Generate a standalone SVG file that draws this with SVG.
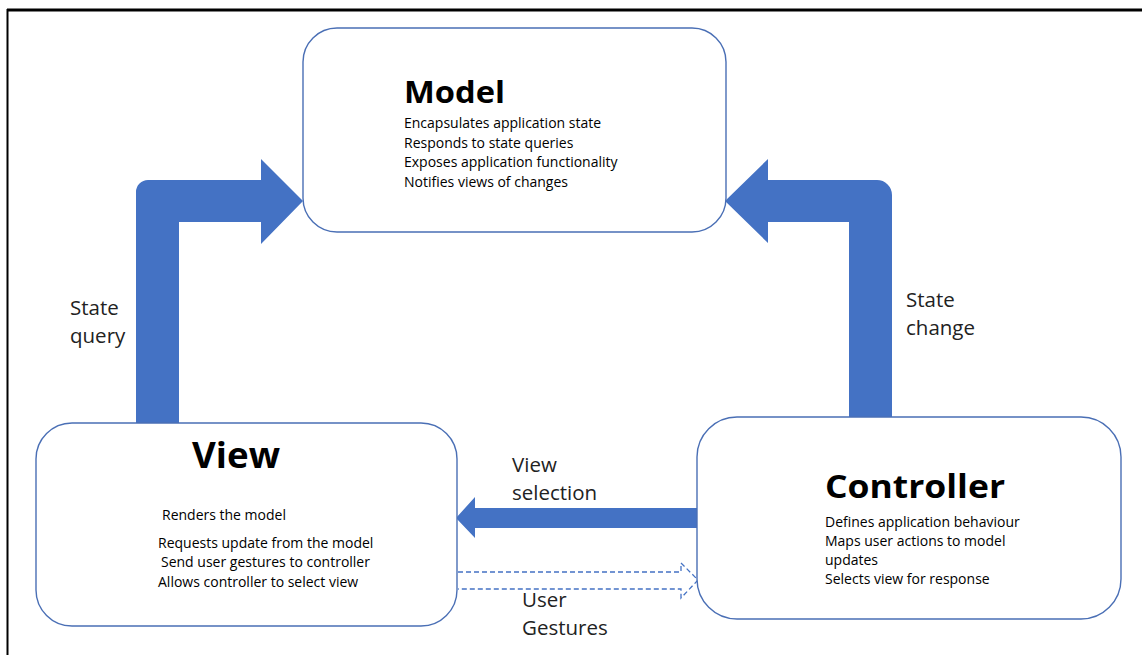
<svg xmlns="http://www.w3.org/2000/svg" width="1142" height="655" viewBox="0 0 1142 655">
<style>
.box{fill:#fff;stroke:#4A6FB5;stroke-width:1.4}
.arr{fill:#4472C4}
.t{font-family:"Open Sans","Liberation Sans",sans-serif;fill:#000}
.title{font-weight:bold}
.body{font-size:14px}
.lbl{font-size:20.5px;fill:#222}
</style>
<rect width="1142" height="655" fill="#fff"/>
<line x1="7" y1="10" x2="1142" y2="10" stroke="#000" stroke-width="3"/>
<line x1="7.5" y1="9" x2="7.5" y2="655" stroke="#000" stroke-width="2"/>
<g id="connectors">
<path class="arr" d="M136,423 V192 A12,12 0 0 1 148,180 H261 V159 L303,201 L261,244 V222 H179 V423 Z"/>
<path class="arr" d="M892,417 V195 A15,15 0 0 0 877,180 H768 V159 L725,201 L768,243 V222 H849 V417 Z"/>
<path class="arr" d="M697,508 H475 V497 L456,518 L475,538 V528 H697 Z"/>
<path d="M458,572 H681 V563 L698,580 L681,598 V589 H458" fill="none" stroke="#4472C4" stroke-width="1.3" stroke-dasharray="5,3"/>
<text class="t lbl" x="70" y="315">State</text>
<text class="t lbl" x="70" y="343">query</text>
<text class="t lbl" x="906" y="307">State</text>
<text class="t lbl" x="906" y="335">change</text>
<text class="t lbl" x="512" y="472">View</text>
<text class="t lbl" x="512" y="500">selection</text>
<text class="t lbl" x="522" y="607">User</text>
<text class="t lbl" x="522" y="635">Gestures</text>
</g>
<g id="model">
<rect class="box" x="303" y="28" width="423" height="204" rx="34"/>
<text class="t title" x="404" y="103" font-size="30" textLength="101" lengthAdjust="spacingAndGlyphs">Model</text>
<text class="t body" x="404" y="128">Encapsulates application state</text>
<text class="t body" x="404" y="147.5">Responds to state queries</text>
<text class="t body" x="404" y="167">Exposes application functionality</text>
<text class="t body" x="404" y="186.5">Notifies views of changes</text>
</g>
<g id="view">
<rect class="box" x="36" y="423" width="421" height="203" rx="36"/>
<text class="t title" x="192" y="468" font-size="35" textLength="88" lengthAdjust="spacingAndGlyphs">View</text>
<text class="t body" x="162" y="520">Renders the model</text>
<text class="t body" x="158" y="548">Requests update from the model</text>
<text class="t body" x="161" y="567">Send user gestures to controller</text>
<text class="t body" x="158" y="587">Allows controller to select view</text>
</g>
<g id="controller">
<rect class="box" x="697" y="417" width="424" height="202" rx="40"/>
<text class="t title" x="825" y="498" font-size="33" textLength="180" lengthAdjust="spacingAndGlyphs">Controller</text>
<text class="t body" x="825" y="527">Defines application behaviour</text>
<text class="t body" x="825" y="546">Maps user actions to model</text>
<text class="t body" x="825" y="565">updates</text>
<text class="t body" x="825" y="584">Selects view for response</text>
</g>
</svg>
